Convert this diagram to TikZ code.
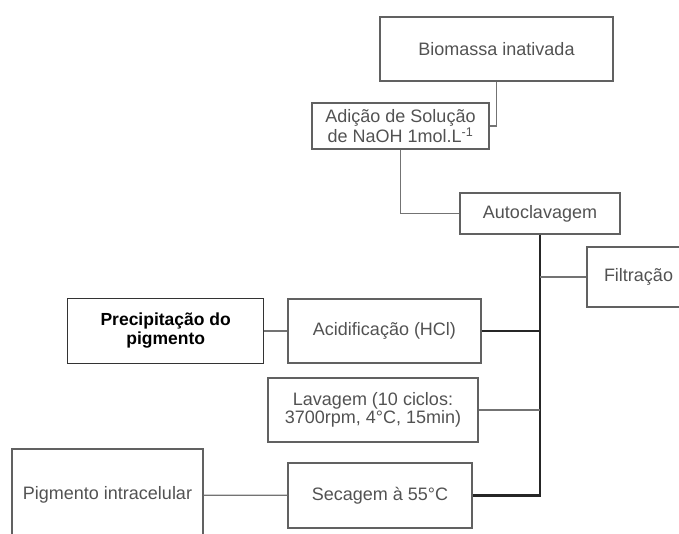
\documentclass[tikz,border=0pt]{standalone}
\usepackage{fontspec}
\setmainfont{Liberation Sans}
\usetikzlibrary{positioning}

\begin{document}
\begin{tikzpicture}[
  x=1pt, y=-1pt,
  box/.style={draw=black!62, line width=1.3pt, align=center, inner sep=2pt,
              text=black!68, font=\fontsize{18}{17.5}\selectfont},
  boldbox/.style={box, draw=black!80, text=black, font=\fontsize{17.5}{19}\selectfont\bfseries},
  link/.style={draw=black!55, line width=1.3pt},
  trunk/.style={draw=black!85, line width=2.3pt},
]
\clip (0,0) rectangle (679,533);
\node[box, minimum width=233pt, minimum height=64pt] (bio) at (496.5,49) {Biomassa inativada};
\node[box, minimum width=177pt, minimum height=46pt] (naoh) at (400.5,126)
      {Adição de Solução\\de NaOH 1mol.L\textsuperscript{-1}};
\node[box, minimum width=160pt, minimum height=41pt] (auto) at (540,213.5) {Autoclavagem};
\node[box, minimum width=103pt, minimum height=60pt] (filt) at (638.5,277) {Filtração};
\node[box, minimum width=193pt, minimum height=64pt] (acid) at (384.5,331) {Acidificação (HCl)};
\node[boldbox, minimum width=196pt, minimum height=65pt, left=23pt of acid] (precip)
      {Precipitação do\\pigmento};
\node[box, minimum width=210pt, minimum height=64pt] (lav) at (373,410)
      {Lavagem (10 ciclos:\\3700rpm, 4°C, 15min)};
\node[box, minimum width=184pt, minimum height=65pt] (sec) at (380,495.5) {Secagem à 55°C};
\node[box, minimum width=191pt, minimum height=92pt] (pig) at (107.5,495) {Pigmento intracelular};
\draw[link] (bio.south) |- (naoh.east);
\draw[link] (naoh.south) |- (auto.west);
\draw[trunk] (auto.south) |- (sec.east);
\draw[link] (filt.west -| auto.south) -- (filt.west);
\draw[trunk] (acid.east) -- (acid.east -| auto.south);
\draw[link] (lav.east) -- (lav.east -| auto.south);
\draw[link] (precip) -- (acid);
\draw[link] (pig) -- (sec);
\end{tikzpicture}
\end{document}
